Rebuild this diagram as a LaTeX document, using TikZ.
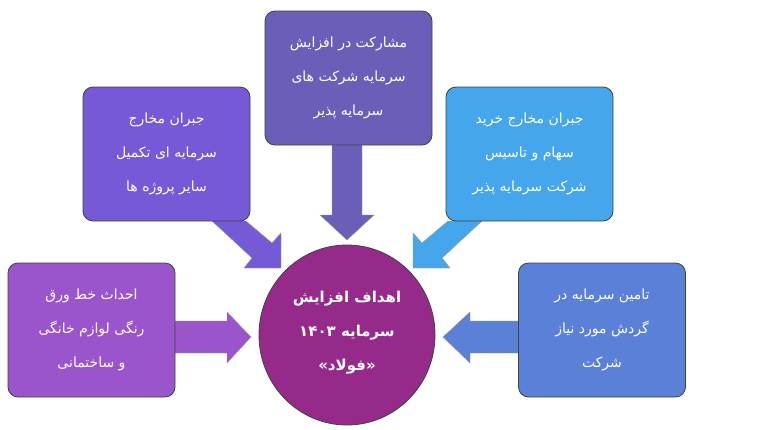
\documentclass[tikz,border=0pt]{standalone}
\usetikzlibrary{shapes.geometric}
\usepackage{fontspec}
\newfontfamily\arabicfont[Script=Arabic]{DejaVu Sans}
\TeXXeTstate=1
\newcommand{\rl}[1]{\beginR #1\endR}
\definecolor{cTop}{HTML}{6A5FB8}
\definecolor{cUL}{HTML}{7559D6}
\definecolor{cUR}{HTML}{45A6EC}
\definecolor{cLL}{HTML}{9A55CC}
\definecolor{cLR}{HTML}{5A80D8}
\definecolor{cMid}{HTML}{952A8A}
\tikzset{
 boxst/.style={draw=black!75, line width=0.8pt, rounded corners=10pt, minimum width=167pt, minimum height=134pt, inner sep=0pt},
 txt/.style={text=white, align=center, font=\arabicfont\fontsize{14}{34}\selectfont},
 arrowst/.style={draw=black!40, line width=0.4pt}
}
\begin{document}
\begin{tikzpicture}[x=1pt,y=-1pt]
\useasboundingbox (0,0) rectangle (768,429);
% arrows
\filldraw[arrowst, fill=cTop] (332,145) -- (332,215) -- (320,215) -- (347,240) coordinate (tT) -- (374,215) -- (362,215) -- (362,145) -- cycle;
\filldraw[arrowst, fill=cUL] (212,221) -- (252,258) -- (244,268) -- (281,268) coordinate (tUL) -- (281,233) -- (272,243) -- (246,221) -- cycle;
\filldraw[arrowst, fill=cUR] (482,221) -- (442,258) -- (450,268) -- (413,268) coordinate (tUR) -- (413,233) -- (422,243) -- (448,221) -- cycle;
\filldraw[arrowst, fill=cLL] (175,321) -- (227,321) -- (227,312) -- (251,337) coordinate (tLL) -- (227,363) -- (227,353) -- (175,353) -- cycle;
\filldraw[arrowst, fill=cLR] (518,321) -- (470,321) -- (470,312) -- (443,337) coordinate (tLR) -- (470,363) -- (470,353) -- (518,353) -- cycle;
% boxes
\node[boxst, fill=cTop] (top) at (348.5,78) {};
\node[boxst, fill=cUL] (ul) at (166.5,154) {};
\node[boxst, fill=cUR] (ur) at (529.5,154) {};
\node[boxst, fill=cLL] (ll) at (91.5,330) {};
\node[boxst, fill=cLR] (lr) at (602,330) {};
\node[draw=black!75, line width=0.8pt, fill=cMid, ellipse, minimum width=176pt, minimum height=180pt, inner sep=0pt] (mid) at (347,335) {};
% texts
\node[txt] (ttop) at (top) {\rl{مشارکت در افزایش}\\\rl{سرمایه شرکت های}\\\rl{سرمایه پذیر}};
\node[txt] (tul) at (ul) {\rl{جبران مخارج}\\\rl{سرمایه ای تکمیل}\\\rl{سایر پروژه ها}};
\node[txt] (tur) at (ur) {\rl{جبران مخارج خرید}\\\rl{سهام و تاسیس}\\\rl{شرکت سرمایه پذیر}};
\node[txt] (tll) at (ll) {\rl{احداث خط ورق}\\\rl{رنگی لوازم خانگی}\\\rl{و ساختمانی}};
\node[txt] (tlr) at (lr) {\rl{تامین سرمایه در}\\\rl{گردش مورد نیاز}\\\rl{شرکت}};
\node[txt, font=\arabicfont\bfseries\fontsize{15}{34}\selectfont] (tmid) at (347,333) {\rl{اهداف افزایش}\\\rl{سرمایه ۱۴۰۳}\\\rl{«فولاد»}};
\end{tikzpicture}
\end{document}
